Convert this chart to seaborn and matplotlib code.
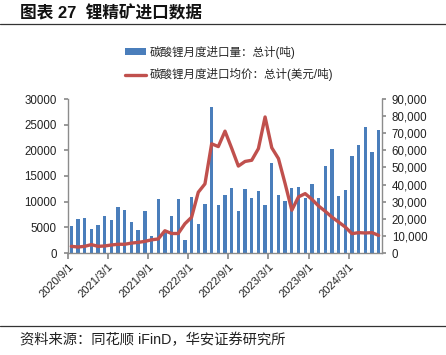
import numpy as np
import pandas as pd
import matplotlib
matplotlib.use("Agg")
import matplotlib.pyplot as plt
import seaborn as sns
from matplotlib.patches import Patch
from matplotlib.lines import Line2D
from matplotlib.ticker import FuncFormatter

# ---- data ----
months = pd.date_range("2020-09-01", periods=47, freq="MS").strftime("%Y-%m").tolist()
volume = [5200, 6600, 6800, 4600, 5450, 7200, 6430, 8900, 8450, 6100, 4480, 8200,
          3400, 10450, 3800, 7200, 10450, 2500, 10900, 5700, 9600, 28400, 9350, 11300,
          12600, 8250, 12400, 10800, 12050, 9350, 17450, 11250, 10100, 12750, 12850, 10800,
          13500, 10700, 16950, 20300, 11200, 12300, 18850, 21100, 24500, 19600, 24050]
price = [3900, 3500, 3900, 4900, 3900, 4100, 4700, 5100, 5100, 5800, 6200, 6800,
         7700, 8200, 13000, 11400, 11400, 17100, 20900, 35500, 40400, 63800, 62200, 71200,
         61200, 50800, 53500, 54200, 61000, 79500, 61500, 55200, 40500, 25000, 32800, 34700,
         31400, 27500, 24400, 21000, 18100, 15200, 11300, 11900, 11700, 11900, 10300]
tick_labels = ["2020/9/1", "2021/3/1", "2021/9/1", "2022/3/1",
               "2022/9/1", "2023/3/1", "2023/9/1", "2024/3/1"]
vol_label = "碳酸锂月度进口量：总计(吨)"
price_label = "碳酸锂月度进口均价：总计(美元/吨)"
title = "图表 27  锂精矿进口数据"
source = "资料来源：同花顺 iFinD，华安证券研究所"

BLUE = "#4A7EBB"
RED = "#C0504D"
GRAY = "#8C8C8C"

sns.set_theme(style="white")
plt.rcParams["font.family"] = ["Liberation Sans", "Noto Sans CJK SC"]

W, H = 446, 355
fig = plt.figure(figsize=(W / 100, H / 100), dpi=100)
ax = fig.add_axes([68 / W, 1 - 253 / H, 314 / W, 154 / H])

df = pd.DataFrame({"month": months, "volume": volume, "price": price})
sns.barplot(data=df, x="month", y="volume", color=BLUE, saturation=1,
            width=0.5, linewidth=0, ax=ax)
ax2 = ax.twinx()
sns.lineplot(x=np.arange(len(df)), y=df["price"], ax=ax2, color=RED, lw=2.4)

ax.set_xlim(-0.5, len(df) - 0.5)
ax.set_xticks(np.arange(0, len(df), 6) - 0.5)
ax.set_xticklabels(tick_labels, rotation=45, ha="right", rotation_mode="anchor",
                   fontsize=8)
ax.set_ylim(0, 30000)
ax.set_yticks(range(0, 30001, 5000))
ax.set_yticklabels([str(v) for v in range(0, 30001, 5000)], fontsize=8.3)
ax2.set_ylim(0, 90000)
ax2.set_yticks(range(0, 90001, 10000))
ax2.yaxis.set_major_formatter(FuncFormatter(lambda v, p: f"{v:,.0f}"))
for t in ax2.get_yticklabels():
    t.set_fontsize(8.3)

for a in (ax, ax2):
    a.set_xlabel("")
    a.set_ylabel("")
    a.grid(False)
    a.spines["top"].set_visible(False)
    for s in a.spines.values():
        s.set_color(GRAY)
        s.set_linewidth(1.0)
ax.spines["right"].set_visible(False)
ax2.spines["left"].set_visible(False)
ax2.spines["bottom"].set_visible(False)

ax.tick_params(axis="x", bottom=True, length=4, color=GRAY, pad=2, labelcolor="#222222")
ax.tick_params(axis="y", left=True, length=3, color=GRAY, pad=5, labelcolor="#222222")
ax2.tick_params(axis="y", right=True, length=3, color=GRAY, pad=4, labelcolor="#222222")

# title, rules, source
fig.text(20 / W, 1 - 13 / H, title, fontsize=12, fontweight="bold", va="center",
         color="#111111")
fig.add_artist(Line2D([0, 1], [1 - 23.5 / H] * 2, color="#333333", lw=0.9))
fig.add_artist(Line2D([0, 1], [1 - 326 / H] * 2, color="#333333", lw=0.9))
fig.text(20 / W, 1 - 340 / H, source, fontsize=10.3, va="center", color="#222222")

handles = [Patch(facecolor=BLUE, edgecolor="none", label=vol_label),
           Line2D([], [], color=RED, lw=2.4, label=price_label)]
fig.legend(handles=handles, loc="upper left", bbox_to_anchor=(125 / W, 1 - 46 / H),
           frameon=False, fontsize=8.3, handlelength=1.8, handleheight=0.55,
           handletextpad=0.3, labelspacing=0.8, borderpad=0, borderaxespad=0)

fig.savefig("out.png", dpi=100)
